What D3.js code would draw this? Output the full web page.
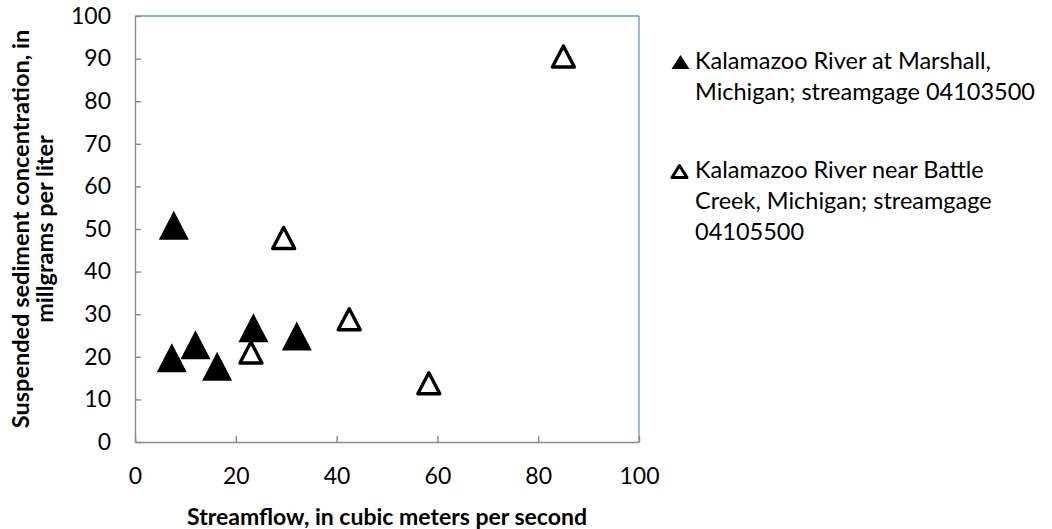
<!DOCTYPE html>
<html>
<head>
<meta charset="utf-8">
<script src="https://cdnjs.cloudflare.com/ajax/libs/d3/7.8.5/d3.min.js"></script>
<style>
    body { margin: 0; background: #fff; }
    svg { display: block; }
</style>
</head>
<body>
<div id="chart"></div>
<script>

// Kalamazoo River at Marshall (filled triangles)
var marshallFlow = [7.7, 7.3, 12.0, 16.3, 23.5, 32.1];
var marshallConc = [50.9, 19.8, 22.8, 17.8, 26.8, 24.9];

// Kalamazoo River near Battle Creek (open triangles)
var battleFlow = [29.5, 23.0, 42.5, 58.3, 85.0];
var battleConc = [47.9, 21.0, 28.8, 13.8, 90.5];

var xTicks = [0, 20, 40, 60, 80, 100];
var yTicks = [0, 10, 20, 30, 40, 50, 60, 70, 80, 90, 100];

var legendLabels = [
    ["Kalamazoo River at Marshall,", "Michigan; streamgage 04103500"],
    ["Kalamazoo River near Battle", "Creek, Michigan; streamgage", "04105500"]
];

var width = 1052, height = 529;
var font = "Lato, 'Open Sans', sans-serif";

var svg = d3.select("#chart").append("svg")
    .attr("width", width)
    .attr("height", height);

svg.append("rect")
    .attr("width", width)
    .attr("height", height)
    .attr("fill", "#ffffff");

var x = d3.scaleLinear().domain([0, 100]).range([135, 639]);
var y = d3.scaleLinear().domain([0, 100]).range([442, 16]);

// top and right frame lines
svg.append("line")
    .attr("x1", x(0)).attr("y1", y(100))
    .attr("x2", x(100)).attr("y2", y(100))
    .attr("stroke", "#6a93c8")
    .attr("stroke-width", 1.3);
svg.append("line")
    .attr("x1", x(100)).attr("y1", y(100))
    .attr("x2", x(100)).attr("y2", y(0))
    .attr("stroke", "#6a93c8")
    .attr("stroke-width", 1.3);

// axes, ticks point inward
var xAxis = svg.append("g")
    .attr("transform", "translate(0," + y(0) + ")")
    .call(d3.axisBottom(x).tickValues(xTicks).tickSize(-6).tickSizeOuter(0).tickPadding(26));

var yAxis = svg.append("g")
    .attr("transform", "translate(" + x(0) + ",0)")
    .call(d3.axisLeft(y).tickValues(yTicks).tickSize(-6).tickSizeOuter(0).tickPadding(24));

[xAxis, yAxis].forEach(function(g) {
    g.select(".domain").attr("stroke", "#898989").attr("stroke-width", 1.4);
    g.selectAll(".tick line").attr("stroke", "#898989").attr("stroke-width", 1.4);
    g.selectAll(".tick text")
        .attr("fill", "#000")
        .attr("font-family", font)
        .attr("font-size", "23px");
});

// axis titles
svg.append("text")
    .attr("x", (x(0) + x(100)) / 2)
    .attr("y", 525)
    .attr("text-anchor", "middle")
    .attr("font-family", font)
    .attr("font-weight", "bold")
    .attr("font-size", "23px")
    .text("Streamflow, in cubic meters per second");

var yTitle = svg.append("text")
    .attr("transform", "translate(29," + (y(0) + y(100)) / 2 + ") rotate(-90)")
    .attr("text-anchor", "middle")
    .attr("font-family", font)
    .attr("font-weight", "bold")
    .attr("font-size", "23.5px");
yTitle.append("tspan").attr("x", 0).attr("y", 0).text("Suspended sediment concentration, in");
yTitle.append("tspan").attr("x", 0).attr("y", 24).text("millgrams per liter");

// marker shapes
function tri(w, h) {
    return "M0," + (-h / 2) + "L" + (w / 2) + "," + (h / 2) + "L" + (-w / 2) + "," + (h / 2) + "Z";
}

var marshall = marshallFlow.map(function(d, i) { return {x: d, y: marshallConc[i]}; });
var battle = battleFlow.map(function(d, i) { return {x: d, y: battleConc[i]}; });

svg.selectAll("path.marshall")
    .data(marshall)
    .enter()
    .append("path")
    .attr("class", "marshall")
    .attr("d", tri(30, 29))
    .attr("transform", function(d) { return "translate(" + x(d.x) + "," + y(d.y) + ")"; })
    .attr("fill", "#000");

svg.selectAll("path.battle")
    .data(battle)
    .enter()
    .append("path")
    .attr("class", "battle")
    .attr("d", tri(22, 21))
    .attr("transform", function(d) { return "translate(" + x(d.x) + "," + y(d.y) + ")"; })
    .attr("fill", "none")
    .attr("stroke", "#000")
    .attr("stroke-width", 3.4)
    .attr("stroke-linejoin", "round");

// legend
var legend = svg.append("g");
var legendTop = [69, 178];

legend.append("path")
    .attr("d", tri(18, 14))
    .attr("transform", "translate(680.5,62)")
    .attr("fill", "#000");
legend.append("path")
    .attr("d", tri(15, 12))
    .attr("transform", "translate(679.5,171.5)")
    .attr("fill", "none")
    .attr("stroke", "#000")
    .attr("stroke-width", 3)
    .attr("stroke-linejoin", "round");

legendLabels.forEach(function(lines, i) {
    var t = legend.append("text")
        .attr("font-family", font)
        .attr("font-size", "23.5px")
        .attr("fill", "#000");
    lines.forEach(function(s, j) {
        t.append("tspan")
            .attr("x", 695)
            .attr("y", legendTop[i] + j * 31)
            .text(s);
    });
});

</script>
</body>
</html>
